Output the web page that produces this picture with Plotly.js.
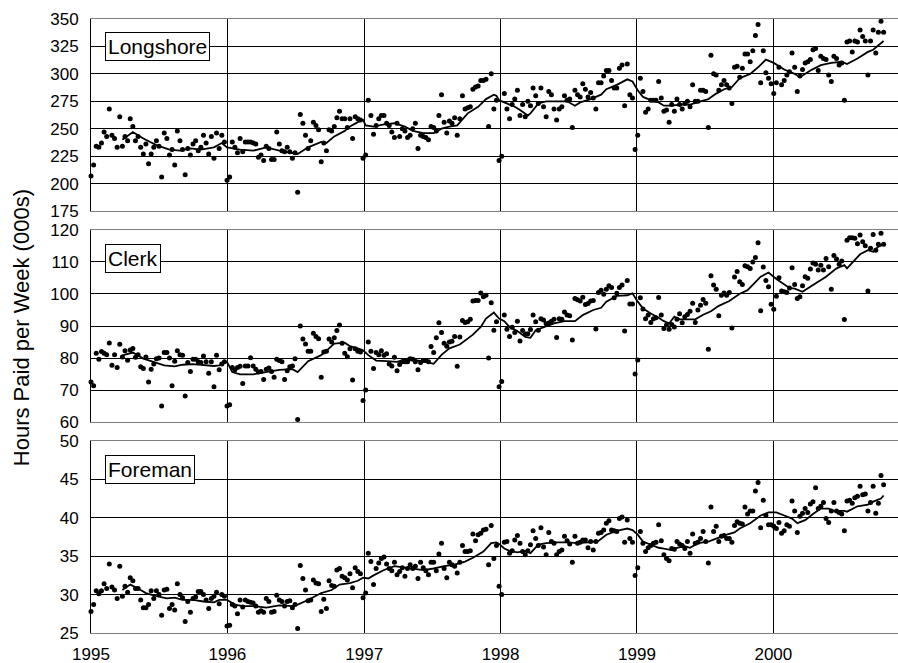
<!DOCTYPE html>
<html><head><meta charset="utf-8">
<script src="https://cdn.plot.ly/plotly-3.0.1.min.js"></script>
<style>html,body{margin:0;padding:0;background:#fff}#chart{width:898px;height:663px}</style>
</head><body><div id="chart"></div>
<script>
// Weekly series, first week = week of 1 Jan 1995
const panelNames = ['Longshore', 'Clerk', 'Foreman'];
const yAxisTitle = 'Hours Paid per Week (000s)';

const longshore = [
207,217,234,233,237,247,243,268,244,241,233,261,234,243,239,259,252,239,243,233,227,236,218,227,233,239,234,206,246,241,226,231,217,248,239,231,208,232,226,236,239,230,233,244,237,227,243,223,246,232,244,238,
203,206,238,233,228,241,229,238,238,238,237,236,224,226,221,234,232,222,222,247,236,230,229,233,229,223,228,192,263,255,244,232,239,256,253,249,220,237,230,249,248,252,260,266,259,259,251,259,241,261,259,258,
223,226,276,262,245,253,259,262,262,255,253,247,242,255,243,250,248,242,244,250,255,232,244,243,242,240,252,251,248,262,281,256,246,257,255,260,244,259,280,268,269,270,286,288,289,294,294,295,252,300,268,276,
221,225,282,268,259,272,277,285,262,272,261,275,271,287,280,273,287,270,261,284,281,268,258,268,270,280,276,277,251,285,281,279,291,286,279,283,278,268,292,292,298,303,303,294,287,287,305,308,271,309,281,278,
231,244,296,284,265,268,276,276,276,293,278,266,267,256,272,266,277,272,268,273,275,270,290,275,275,285,285,284,251,317,300,299,285,290,294,290,287,273,306,307,297,305,318,318,311,321,335,345,292,321,301,296,
291,282,292,306,290,294,299,302,319,306,284,298,304,310,311,313,322,323,303,316,314,313,299,293,316,314,308,310,276,329,330,320,330,329,340,334,330,299,330,340,319,338,348,338];

const clerk = [
72.5,71.3,81.5,79.6,82,81.5,81,84.7,77.7,81,77,84.3,80.3,82.3,79.3,82.5,83,80.2,81,77.3,76.7,80.3,72.5,76.5,78.1,79.8,80,65,81.7,81.7,80,71.3,79,82.3,81,80.9,68.1,78.6,75.8,79.6,79.6,78.8,78.6,80.6,78.8,75.2,78.8,71,80.9,76.3,78.1,78.8,
65,65.4,77,76.3,77,77.4,72,77.5,77.5,80.1,77.5,76.5,75.6,75.8,73.3,76.5,76.9,75.8,74,79.6,79.2,78.8,73.3,76,77.3,77.5,79.8,60.8,90,85.9,84.4,82.1,82.1,87.7,86.7,86,74,81.9,82.1,85.9,85,86.3,88.6,90.3,84.6,81.5,80.4,82.9,73.1,82.9,82.1,81.9,
66.7,70,85,82.1,76.7,81.7,81,82.3,80.9,81.3,78.1,77.5,80.2,76,78,78.8,78.8,78.8,79.8,79.6,78.8,76.3,78.6,79.2,79.2,78.8,83.6,81.7,86.3,91,88,84.6,83.7,85,85.2,86.7,77.4,86.6,91.7,91.1,91.3,92.1,97.8,98,98,100.3,99.1,99.6,80,97.3,88.7,91.3,
71,72.7,93.4,89,86.7,89.6,88,91.5,85.3,88.6,87.5,87.6,88.9,93.4,91.3,88.7,92.3,91.9,90.7,90.9,91.5,92.1,86.4,92.3,92.1,94.4,93.4,93.2,85.6,98.6,98.2,97.8,99,96.7,97,97.8,98,89.1,100.5,101.2,99.9,101.5,102.6,102,98.8,100.2,102,102.8,88.4,104.2,96.9,96.9,
75,79.4,98.8,95.3,92.3,93.4,91.1,92.3,92.6,98.9,93.4,89.2,90.3,89,90.5,89.7,92.1,93.8,91,92.9,93.6,94.6,97.1,91.1,95,96.5,98.3,97.1,82.7,105.7,102.8,101.5,93.2,99.6,100.3,99.6,100.5,89.4,105.3,107,103.8,103,108.8,108.5,108,110,111.4,116,94.8,108.4,104.2,102.3,
96.8,95.2,99.3,105.1,100.9,100.7,100.5,101.9,108.2,103,98.6,99.1,102.6,105.4,104.9,107.8,109.7,109.3,107.5,109,107.5,111.1,108.5,101.5,112,110.9,109.3,110.3,92,116.8,117.6,117.6,117.4,115.7,118.4,116.3,115.1,100.9,114.3,118.6,113.7,115.5,119,115.5];

const foreman = [
27.8,28.7,30.5,30.1,30.5,31.4,30.8,34,31,30.6,29.5,33.7,29.8,31.1,30.3,32.2,31.8,30.8,30.8,29.3,28.3,28.3,28.7,30.5,29.5,30.5,30,27.3,30.6,30.7,28.2,28.7,28,31.4,30,29.6,26.5,29.1,27.7,29.5,29.7,30.4,30.4,30,29.3,28.2,29.5,29.8,30.3,28.8,30,29.8,
25.9,26,28.7,28.5,27.5,29.3,28.4,29.3,29.1,29,28.9,28.5,27.7,27.9,27.7,29.5,29.1,27.7,27.8,29.9,29.3,29.1,28.5,29.1,29.2,28.3,28.7,25.6,33.8,32.1,30.6,29.2,29.3,31.9,31.5,31.4,27.8,29.4,28.2,31.8,31.2,31.1,33.2,33.4,32.4,32.2,31.9,32.7,30.9,33.5,33,32.7,
29.6,30.2,35.4,34.3,31.3,33.4,34.1,34.7,34.9,34,33.4,33.1,34.2,32.6,33,33.5,32.4,33.4,33.9,33.4,33.7,32.1,34.2,33.5,33.1,32.6,34.2,34.2,33.1,35.3,36.7,33.4,32.2,34.2,33.9,33.7,32.8,34.2,36.4,35.6,35.6,35.7,37.9,37,37.8,38,38.4,38.5,33.9,39,34.7,36.4,
31.1,30,36.8,36.9,35.4,35.7,37.1,37.7,36.7,35.6,35.2,35.7,36.5,38.3,37.3,36.4,38.7,36.2,35.2,38.1,36.9,36.7,35.2,35.6,35.8,37.6,37,36.6,34.2,37.6,36.7,36.8,37.1,37.1,36.1,36.9,35.8,36.9,38,38.1,38.4,39.3,39.6,38.4,38.3,38.2,39.9,40.1,36.8,39.7,37.3,36.8,
32.5,33.5,38.2,36.7,35.6,36.1,36.4,36.7,36.8,39.1,37,35.2,34.7,34.4,36,35.9,36.9,36.6,36.4,36,36.9,35.4,37.9,36.7,36.8,37.3,38.2,36.9,34.1,41.4,38.2,38.9,36.9,37.6,37.7,37.3,37.3,36.8,39,39.5,39.3,39.2,41.4,40.5,40.9,40.9,43.5,44.6,38.7,42.3,40.3,39.1,
39.1,38.9,38.6,39.4,38,38.3,39.1,38.9,42.2,40.9,38.1,40.2,40.6,41.2,40.7,41.8,42.1,43.9,41.2,41.5,42,39.9,39.4,40.9,42,40.9,40.7,40.5,38.3,42.2,42.3,41.9,42.6,42.8,44.1,43,43.1,40.9,42,44.1,40.6,41.9,45.5,44.3];

// Moving-average line (week index, value)
const longshoreAvgWeek = [12,16,20,25,30,34,38,42,47,50,52,57,62,67,72,77,79,83,88,90,93,97,99,102,104,105,108,112,116,120,123,127,131,134,137,140,144,148,151,154,155,156,159,162,164,167,168,171,174,178,182,185,187,191,195,197,201,205,207,209,211,214,217,219,222,225,229,233,236,239,242,245,248,252,255,258,261,265,269,271,275,279,283,287,289,293,297,299,302,303];
const longshoreAvg = [240,247,241,235,231,230,232,231,233,237,233,231,230,233,230,228,227,233,238,237,243,248,252,256,258,253,252,254,255,252,248,246,246,250,252,253,264,270,277,281,280,276,273,270,267,262,264,273,275,275,275,271,274,277,281,286,290,295,293,285,279,276,274,271,271,272,272,275,277,282,286,288,296,300,306,313,310,304,300,297,303,308,310,311,309,314,320,322,328,330];

const clerkAvgWeek = [12,16,20,24,28,32,35,39,43,47,49,52,54,57,62,67,72,77,79,83,88,91,93,97,99,102,104,106,109,113,117,121,125,128,131,134,137,141,146,149,151,154,156,158,160,163,166,168,170,173,177,181,185,188,192,195,197,201,205,207,209,211,214,217,219,221,223,225,228,231,234,237,240,244,248,251,256,259,262,267,269,272,276,281,285,288,289,294,297,299,301,303];
const clerkAvg = [80.8,81.7,79.8,78.8,77.7,77.4,77.9,78.1,77.7,77.5,77.7,78.8,75.6,74.9,74.9,75.6,76.3,76.5,75.6,79,80.9,83,84.5,84.8,83.7,83,82.4,80.9,79.2,79,78.8,79.8,79.3,78.8,78.2,81,83,84.2,87.3,89.7,92.3,94.2,92.3,91.5,89.7,88.4,86.6,86.3,88.7,89.7,90.8,91.5,91.5,93.4,95,95.7,97.6,99.4,99.6,100.2,97.6,95.5,93.9,92.6,91.5,90.8,92.9,92.1,92.1,92.1,93.5,94.6,96.3,97.8,100.1,101.2,105.4,106.7,104.7,101.9,101.7,100.7,102.8,105.4,108,109,108,112.4,113.7,113.2,114.8,115.5];

const foremanAvgWeek = [12,15,18,21,25,29,32,35,39,43,47,49,52,55,58,62,67,72,77,79,83,88,92,95,99,102,104,106,108,112,116,120,123,127,131,135,139,143,146,150,153,155,156,158,160,163,166,168,171,174,178,182,186,190,194,197,201,205,207,209,211,214,217,219,222,224,227,229,232,236,239,243,246,248,252,256,259,262,265,268,270,273,276,279,282,284,288,289,293,297,299,302,303];
const foremanAvg = [30.6,31.3,30.8,30.2,29.8,29.5,29.6,29.3,29.3,29.1,29,29.3,29.3,28.7,28.5,28.5,28.3,28.6,28.5,28.7,29.3,30.2,30.6,31.3,31.5,31.8,32.2,32.1,32.5,33.2,33.7,33.5,33.4,33.2,33.4,33.7,33.9,34.3,34.8,35.6,36.7,36.8,36.6,36,35.7,35.5,35.7,35.4,36.5,36.7,36.8,36.8,36.7,36.8,37,37.8,38.3,38.6,38.4,37.8,36.9,36.5,36.1,36,35.8,36.1,36.3,36.1,36.7,36.9,37.3,37.8,38.1,38.6,39.3,40.3,40.7,40.7,40.3,39.9,39.3,39.7,40.5,41.2,41.2,40.9,40.9,40.8,41.5,41.7,42.1,42.5,42.9];

function weekDate(i) {
  return new Date(Date.UTC(1995, 0, 1) + i * 7 * 86400000).toISOString().slice(0, 10);
}
const dotsX = longshore.map((_, i) => weekDate(i));

const panels = [
  {vals: longshore, avgW: longshoreAvgWeek, avg: longshoreAvg, xa: 'x3', ya: 'y3'},
  {vals: clerk, avgW: clerkAvgWeek, avg: clerkAvg, xa: 'x2', ya: 'y2'},
  {vals: foreman, avgW: foremanAvgWeek, avg: foremanAvg, xa: 'x', ya: 'y'}
];
const traces = [];
panels.forEach(p => {
  traces.push({type: 'scatter', mode: 'markers', x: dotsX, y: p.vals, xaxis: p.xa, yaxis: p.ya,
    marker: {color: '#000', size: 5}, cliponaxis: false, hoverinfo: 'skip'});
  traces.push({type: 'scatter', mode: 'lines', x: p.avgW.map(weekDate), y: p.avg, xaxis: p.xa, yaxis: p.ya,
    line: {color: '#000', width: 1.8}, cliponaxis: false, hoverinfo: 'skip'});
});

const FONT = 'Liberation Sans, Arial, sans-serif';
const xRange = ['1995-01-01', '2000-11-29 12:00'];
function xAxis(anchor, showLabels) {
  return {type: 'date', range: xRange, anchor: anchor, tick0: '1995-01-01', dtick: 'M12', tickformat: '%Y',
    showgrid: true, gridcolor: '#000', gridwidth: 1, showline: true, linecolor: '#7f7f7f', linewidth: 1, mirror: true,
    zeroline: false, ticks: '', showticklabels: showLabels, ticklabelstandoff: 6,
    tickfont: {family: FONT, size: 17, color: '#000'}};
}
function yAxis(domain, range, dtick) {
  return {domain: domain, range: range, dtick: dtick, tick0: range[0], showgrid: true, gridcolor: '#000', gridwidth: 1,
    showline: true, linecolor: '#000', linewidth: 1, zeroline: false, ticks: '', ticklabelstandoff: 8,
    tickfont: {family: FONT, size: 17, color: '#000'}};
}
const boxPos = [0.9788, 0.6336, 0.2899];
const annotations = panelNames.map((name, k) => ({
  text: name, xref: 'paper', yref: 'paper', x: 0.0174, y: boxPos[k], xanchor: 'left', yanchor: 'top',
  showarrow: false, bgcolor: '#fff', bordercolor: '#000', borderwidth: 1, borderpad: 2,
  font: {family: FONT, size: 21, color: '#000'}
}));
annotations.push({text: yAxisTitle, xref: 'paper', yref: 'paper', x: -0.0868, y: 0.498, xanchor: 'center', yanchor: 'middle',
  textangle: -90, showarrow: false, font: {family: FONT, size: 22, color: '#000'}});

const layout = {
  width: 898, height: 663, margin: {l: 91, r: 0, t: 19, b: 30},
  paper_bgcolor: '#fff', plot_bgcolor: '#fff', showlegend: false,
  font: {family: FONT, color: '#000'},
  xaxis: xAxis('y', true), xaxis2: Object.assign(xAxis('y2', false), {matches: 'x'}), xaxis3: Object.assign(xAxis('y3', false), {matches: 'x'}),
  yaxis: yAxis([0, 0.3127], [25, 50], 5),
  yaxis2: yAxis([0.3436, 0.6564], [60, 120], 10),
  yaxis3: yAxis([0.6873, 1], [175, 350], 25),
  annotations: annotations
};
Plotly.newPlot('chart', traces, layout, {staticPlot: true, displayModeBar: false});
</script></body></html>
